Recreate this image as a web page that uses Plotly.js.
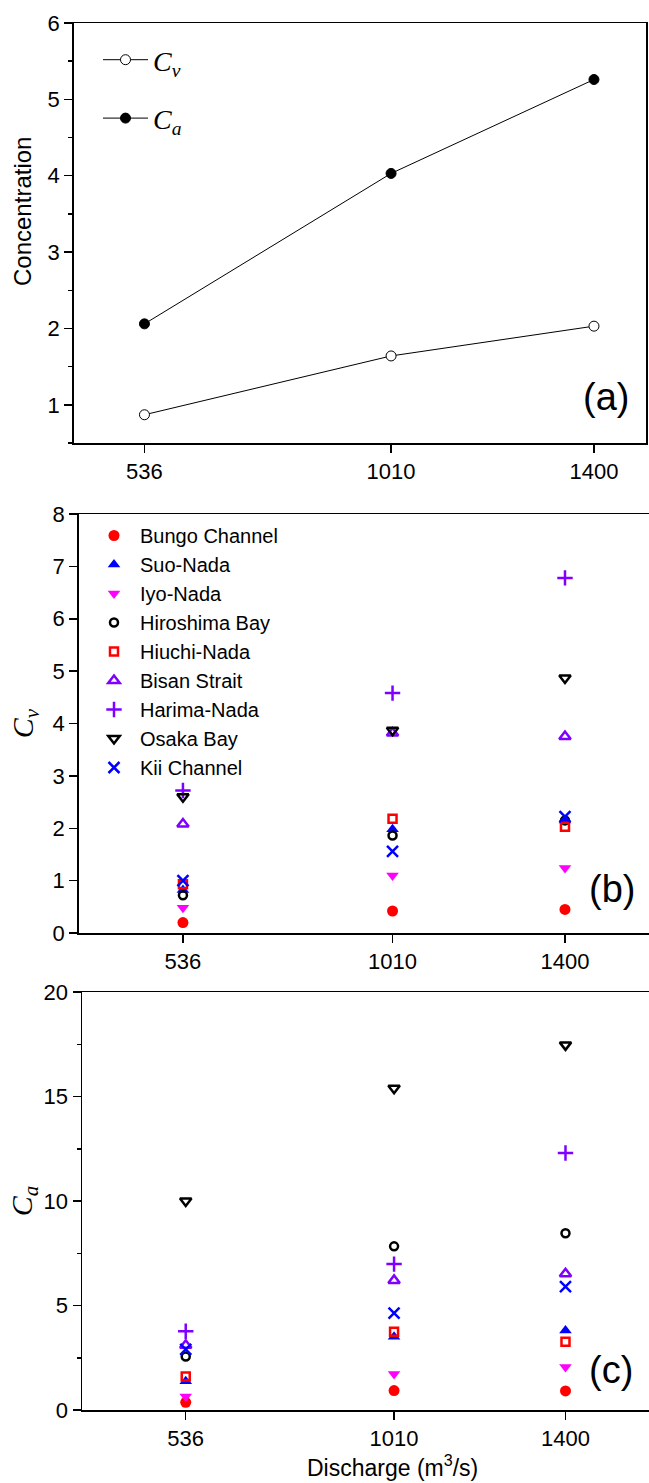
<!DOCTYPE html>
<html>
<head>
<meta charset="utf-8">
<script src="https://cdn.plot.ly/plotly-3.0.1.min.js"></script>
<style>html,body{margin:0;padding:0;background:#fff;}#chart{width:649px;height:1483px;}</style>
</head>
<body>
<div id="chart"></div>
<script>
// ---- data ----
const discharge = [536, 1010, 1400];
const tickLabels = ['536', '1010', '1400'];

// panel (a): mean concentrations
const cvMean = [0.87, 1.64, 2.03];
const caMean = [2.06, 4.03, 5.26];

// regions
const regions = ['Bungo Channel', 'Suo-Nada', 'Iyo-Nada', 'Hiroshima Bay', 'Hiuchi-Nada',
                 'Bisan Strait', 'Harima-Nada', 'Osaka Bay', 'Kii Channel'];

// panel (b): Cv per region
const cvBungo     = [0.20, 0.42, 0.45];
const cvSuo       = [0.82, 1.98, 2.15];
const cvIyo       = [0.48, 1.10, 1.24];
const cvHiroshima = [0.72, 1.86, 2.15];
const cvHiuchi    = [0.93, 2.18, 2.03];
const cvBisan     = [2.08, 3.82, 3.75];
const cvHarima    = [2.72, 4.58, 6.78];
const cvOsaka     = [2.60, 3.87, 4.87];
const cvKii       = [1.00, 1.56, 2.22];

// panel (c): Ca per region
const caBungo     = [0.37, 0.93, 0.91];
const caSuo       = [1.38, 3.50, 3.80];
const caIyo       = [0.65, 1.72, 2.06];
const caHiroshima = [2.56, 7.83, 8.46];
const caHiuchi    = [1.60, 3.75, 3.27];
const caBisan     = [3.10, 6.20, 6.52];
const caHarima    = [3.77, 6.98, 12.30];
const caOsaka     = [10.00, 15.40, 17.47];
const caKii       = [2.90, 4.63, 5.90];

const cvSeries = [cvBungo, cvSuo, cvIyo, cvHiroshima, cvHiuchi, cvBisan, cvHarima, cvOsaka, cvKii];
const caSeries = [caBungo, caSuo, caIyo, caHiroshima, caHiuchi, caBisan, caHarima, caOsaka, caKii];

// ---- styles ----
const RED = '#ff0000', BLUE = '#0000ff', MAG = '#ff00ff', PUR = '#8000ff', BLK = '#000000';
const markerStyles = [
  {symbol: 'circle', size: 11, color: RED, line: {width: 0}},
  {symbol: 'triangle-up', size: 11, color: BLUE, line: {width: 0}},
  {symbol: 'triangle-down', size: 11, color: MAG, line: {width: 0}},
  {symbol: 'circle-open', size: 8, color: BLK, line: {width: 2.5, color: BLK}},
  {symbol: 'square-open', size: 8, color: RED, line: {width: 2.5, color: RED}},
  {symbol: 'triangle-up-open', size: 10, color: PUR, line: {width: 2.5, color: PUR}},
  {symbol: 'cross-thin-open', size: 11, color: PUR, line: {width: 2.5, color: PUR}},
  {symbol: 'triangle-down-open', size: 10, color: BLK, line: {width: 2.5, color: BLK}},
  {symbol: 'x-thin-open', size: 11, color: BLUE, line: {width: 2.5, color: BLUE}}
];

const traces = [];
traces.push({
  x: discharge, y: cvMean, type: 'scatter', mode: 'lines+markers',
  name: '<i>C</i><sub><i>v</i></sub>', legend: 'legend', legendgroup: 'g1',
  line: {color: BLK, width: 1},
  marker: {symbol: 'circle', size: 10, color: '#ffffff', line: {color: BLK, width: 1}},
  xaxis: 'x', yaxis: 'y'
});
traces.push({
  x: discharge, y: caMean, type: 'scatter', mode: 'lines+markers',
  name: '<i>C</i><sub><i>a</i></sub>', legend: 'legend', legendgroup: 'g2',
  line: {color: BLK, width: 1},
  marker: {symbol: 'circle', size: 10, color: BLK, line: {color: BLK, width: 1}},
  xaxis: 'x', yaxis: 'y'
});
regions.forEach((r, i) => {
  traces.push({
    x: discharge, y: cvSeries[i], type: 'scatter', mode: 'markers', name: r,
    legend: 'legend2', marker: markerStyles[i], xaxis: 'x2', yaxis: 'y2', cliponaxis: false
  });
});
regions.forEach((r, i) => {
  traces.push({
    x: discharge, y: caSeries[i], type: 'scatter', mode: 'markers', name: r,
    showlegend: false, marker: markerStyles[i], xaxis: 'x3', yaxis: 'y3', cliponaxis: false
  });
});

const W = 649, H = 1483;
const px = v => v / W;
const py = v => 1 - v / H;

const axisCommon = {
  showline: true, linewidth: 1.5, linecolor: BLK, showgrid: false, zeroline: false,
  ticks: 'outside', ticklen: 8, tickwidth: 1.5, tickcolor: BLK,
  tickfont: {family: 'Liberation Sans, Arial, sans-serif', size: 22, color: BLK}
};

const layout = {
  width: W, height: H,
  margin: {l: 0, r: 0, t: 0, b: 0},
  paper_bgcolor: '#ffffff', plot_bgcolor: '#ffffff',
  font: {family: 'Liberation Sans, Arial, sans-serif', size: 22, color: BLK},
  showlegend: true,
  xaxis: Object.assign({}, axisCommon, {
    domain: [px(73.7), px(646)], range: [400, 1500], anchor: 'y',
    tickvals: discharge, ticktext: tickLabels, mirror: true
  }),
  yaxis: Object.assign({}, axisCommon, {
    domain: [py(443), py(23)], range: [0.5, 6], anchor: 'x', dtick: 1, tick0: 0, mirror: true,
    minor: {dtick: 0.5, tick0: 0, ticks: 'outside', ticklen: 4, tickwidth: 1.5, tickcolor: BLK}
  }),
  xaxis2: Object.assign({}, axisCommon, {
    domain: [px(78.6), 1], range: [300, 1590], anchor: 'y2',
    tickvals: discharge, ticktext: tickLabels, mirror: true
  }),
  yaxis2: Object.assign({}, axisCommon, {
    domain: [py(933), py(514)], range: [0, 8], anchor: 'x2', dtick: 1, tick0: 0,
    title: {text: '<i>C</i><sub><i>v</i></sub>', font: {family: 'Liberation Serif, serif', size: 30, color: BLK}, standoff: 10}
  }),
  xaxis3: Object.assign({}, axisCommon, {
    domain: [px(82), 1], range: [300, 1590], anchor: 'y3',
    tickvals: discharge, ticktext: tickLabels, mirror: true
  }),
  yaxis3: Object.assign({}, axisCommon, {
    domain: [py(1410), py(992)], range: [0, 20], anchor: 'x3', dtick: 5, tick0: 0,
    minor: {dtick: 2.5, tick0: 0, ticks: 'outside', ticklen: 4, tickwidth: 1.5, tickcolor: BLK},
    title: {text: '<i>C</i><sub><i>a</i></sub>', font: {family: 'Liberation Serif, serif', size: 30, color: BLK}, standoff: 2}
  }),
  legend: {
    x: px(98), xanchor: 'left', y: py(35), yanchor: 'top',
    bgcolor: 'rgba(0,0,0,0)', borderwidth: 0,
    font: {family: 'Liberation Serif, serif', size: 28, color: BLK},
    traceorder: 'grouped', tracegroupgap: 19, itemwidth: 45
  },
  legend2: {
    x: px(88), xanchor: 'left', y: py(516), yanchor: 'top',
    bgcolor: 'rgba(0,0,0,0)', borderwidth: 0,
    font: {family: 'Liberation Sans, Arial, sans-serif', size: 20, color: BLK},
    traceorder: 'normal', itemwidth: 42
  },
  annotations: [
    {text: 'Concentration', x: px(23), y: py(212), xref: 'paper', yref: 'paper', textangle: -90,
     showarrow: false, xanchor: 'center', yanchor: 'middle',
     font: {family: 'Liberation Sans, Arial, sans-serif', size: 24, color: BLK}},
    {text: 'Discharge (m<sup>3</sup>/s)', x: px(392), y: py(1466), xref: 'paper', yref: 'paper',
     showarrow: false, xanchor: 'center', yanchor: 'middle',
     font: {family: 'Liberation Sans, Arial, sans-serif', size: 23, color: BLK}},
    {text: '(a)', x: px(606), y: py(397), xref: 'paper', yref: 'paper', showarrow: false,
     xanchor: 'center', yanchor: 'middle', font: {family: 'Liberation Sans, Arial, sans-serif', size: 38, color: BLK}},
    {text: '(b)', x: px(612), y: py(889), xref: 'paper', yref: 'paper', showarrow: false,
     xanchor: 'center', yanchor: 'middle', font: {family: 'Liberation Sans, Arial, sans-serif', size: 38, color: BLK}},
    {text: '(c)', x: px(611), y: py(1370), xref: 'paper', yref: 'paper', showarrow: false,
     xanchor: 'center', yanchor: 'middle', font: {family: 'Liberation Sans, Arial, sans-serif', size: 38, color: BLK}}
  ]
};

Plotly.newPlot('chart', traces, layout, {displayModeBar: false, staticPlot: true});
</script>
</body>
</html>
